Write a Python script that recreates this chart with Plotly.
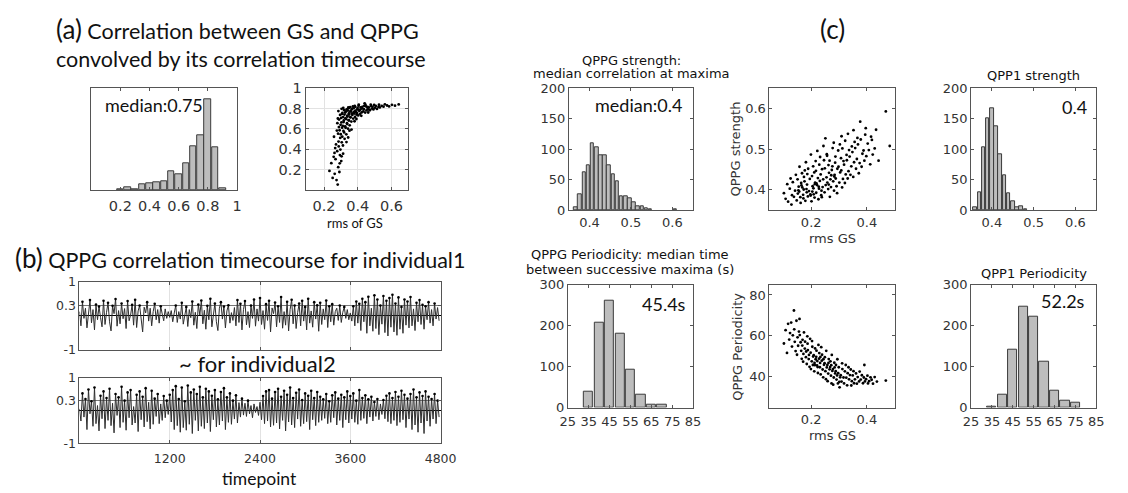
import plotly.graph_objects as go

W, H = 1128, 493

# ---------------- data ----------------
# (a) histogram of correlation between GS and QPPG
a_bins = [0.20, 0.25, 0.30, 0.35, 0.40, 0.45, 0.50, 0.55, 0.60, 0.65, 0.70, 0.75, 0.80, 0.85, 0.90]
a_counts = [1, 8, 3, 18, 22, 24, 27, 57, 49, 84, 135, 170, 282, 132, 5]

# (a) scatter: rms of GS vs correlation
a_rms = [0.232, 0.243, 0.251, 0.257, 0.262, 0.266, 0.259, 0.274, 0.268, 0.271,
         0.276, 0.279, 0.281, 0.284, 0.278, 0.286, 0.283, 0.288, 0.282, 0.285,
         0.291, 0.294, 0.287, 0.296, 0.292, 0.298, 0.289, 0.295, 0.302, 0.297,
         0.305, 0.299, 0.307, 0.303, 0.301, 0.309, 0.304, 0.312, 0.308, 0.315,
         0.311, 0.317, 0.313, 0.306, 0.318, 0.322, 0.319, 0.325, 0.316, 0.327,
         0.321, 0.329, 0.314, 0.332, 0.328, 0.336, 0.331, 0.338, 0.326, 0.334,
         0.342, 0.337, 0.345, 0.339, 0.347, 0.341, 0.344, 0.352, 0.348, 0.356,
         0.349, 0.354, 0.346, 0.362, 0.357, 0.365, 0.359, 0.355, 0.373, 0.368,
         0.376, 0.364, 0.371, 0.384, 0.379, 0.386, 0.375, 0.382, 0.393, 0.388,
         0.397, 0.385, 0.403, 0.396, 0.408, 0.399, 0.405, 0.414, 0.409, 0.417,
         0.406, 0.423, 0.416, 0.427, 0.433, 0.425, 0.438, 0.444, 0.436, 0.448,
         0.452, 0.457, 0.446, 0.463, 0.458, 0.472, 0.466, 0.477, 0.484, 0.479,
         0.493, 0.488, 0.502, 0.497, 0.514, 0.507, 0.523, 0.531, 0.526, 0.542,
         0.553, 0.561, 0.574, 0.586, 0.603, 0.621, 0.643, 0.363, 0.343, 0.313,
         0.263, 0.304, 0.392, 0.421, 0.441, 0.462, 0.381, 0.351, 0.333, 0.293]
a_corr = [0.187, 0.263, 0.118, 0.326, 0.364, 0.412, 0.523, 0.097, 0.302, 0.448,
          0.584, 0.657, 0.052, 0.224, 0.381, 0.476, 0.553, 0.618, 0.703, 0.776,
          0.176, 0.343, 0.428, 0.512, 0.587, 0.641, 0.692, 0.738, 0.284, 0.397,
          0.468, 0.548, 0.613, 0.664, 0.708, 0.757, 0.798, 0.437, 0.524, 0.581,
          0.629, 0.683, 0.717, 0.748, 0.786, 0.503, 0.566, 0.624, 0.668, 0.706,
          0.741, 0.772, 0.806, 0.547, 0.612, 0.657, 0.698, 0.731, 0.762, 0.793,
          0.603, 0.648, 0.687, 0.722, 0.753, 0.781, 0.812, 0.636, 0.683, 0.714,
          0.742, 0.771, 0.803, 0.673, 0.716, 0.752, 0.776, 0.814, 0.702, 0.738,
          0.768, 0.794, 0.821, 0.718, 0.752, 0.779, 0.804, 0.827, 0.741, 0.767,
          0.792, 0.818, 0.733, 0.758, 0.784, 0.806, 0.829, 0.749, 0.778, 0.812,
          0.838, 0.763, 0.791, 0.816, 0.772, 0.803, 0.828, 0.761, 0.794, 0.823,
          0.782, 0.809, 0.836, 0.793, 0.818, 0.784, 0.812, 0.839, 0.801, 0.827,
          0.792, 0.818, 0.808, 0.836, 0.797, 0.826, 0.817, 0.812, 0.838, 0.828,
          0.819, 0.842, 0.831, 0.822, 0.837, 0.829, 0.841, 0.594, 0.516, 0.357,
          0.158, 0.331, 0.698, 0.729, 0.852, 0.762, 0.676, 0.583, 0.471, 0.262]

# (b) QPPG correlation timecourses (sampled every 20 timepoints)
b_step = 20
b_ind1 = [0.12, -0.30, 0.41, -0.08, 0.22, -0.36, 0.05, 0.46, -0.21, 0.18,
          -0.42, 0.33, -0.12, 0.27, -0.05, -0.33, 0.44, -0.26, 0.10, 0.38,
          -0.18, -0.45, 0.29, 0.06, 0.49, -0.31, 0.15, -0.24, 0.36, -0.09,
          0.21, -0.38, 0.43, -0.15, 0.02, 0.32, -0.28, 0.47, -0.35, 0.14,
          0.30, -0.20, -0.48, 0.25, 0.08, 0.40, -0.16, 0.22, -0.30, 0.12,
          0.35, -0.12, 0.18, -0.22, 0.28, 0.05, -0.15, 0.20, -0.08, 0.12,
          -0.05, 0.15, -0.18, 0.08, 0.30, -0.20, 0.12, -0.10, 0.38, -0.25,
          0.05, 0.26, -0.32, 0.18, -0.06, 0.42, -0.28, 0.10, -0.38, 0.33,
          0.02, 0.45, -0.24, 0.16, -0.40, 0.29, -0.12, 0.50, -0.33, 0.08,
          0.36, -0.18, -0.44, 0.22, 0.40, -0.10, 0.27, -0.36, 0.14, 0.31,
          -0.22, 0.09, -0.14, 0.24, -0.30, 0.46, -0.20, 0.35, -0.42, 0.18,
          0.43, -0.27, 0.12, -0.35, 0.30, -0.08, 0.48, -0.31, 0.20, -0.16,
          0.52, -0.26, 0.15, -0.40, 0.34, -0.14, 0.44, -0.48, 0.23, 0.06,
          0.39, -0.33, 0.28, -0.20, 0.55, -0.37, 0.12, -0.28, 0.41, -0.45,
          0.18, 0.47, -0.24, 0.30, -0.38, 0.09, 0.36, -0.30, 0.44, -0.16,
          0.26, -0.42, 0.50, -0.22, 0.14, -0.34, 0.40, -0.10, 0.31, -0.46,
          0.38, -0.26, 0.20, -0.12, 0.45, -0.35, 0.28, -0.18, 0.34, -0.28,
          0.12, 0.22, -0.14, 0.30, -0.20, 0.10, 0.26, -0.08, 0.18, -0.12,
          0.08, -0.16, 0.28, -0.30, 0.42, -0.22, 0.35, -0.44, 0.50, -0.18,
          0.40, -0.52, 0.56, -0.30, 0.22, -0.46, 0.60, -0.38, 0.48, -0.56,
          0.30, -0.25, 0.58, -0.50, 0.44, -0.60, 0.52, -0.34, 0.62, -0.48,
          0.36, -0.58, 0.54, -0.40, 0.26, -0.52, 0.48, -0.28, 0.42, -0.36,
          0.55, -0.30, 0.20, -0.44, 0.38, -0.18, 0.46, -0.26, 0.32, -0.40,
          0.28, -0.12, 0.40, -0.22, 0.18, -0.30, 0.36, -0.10, 0.24, -0.15]
b_ind2 = [0.05, -0.32, 0.52, -0.20, 0.35, -0.58, 0.64, -0.10, 0.28, -0.48,
          0.70, -0.40, 0.15, -0.62, 0.45, -0.25, 0.58, -0.55, 0.38, -0.30,
          0.66, -0.46, 0.22, -0.68, 0.50, -0.15, 0.40, -0.52, 0.72, -0.36,
          0.30, -0.60, 0.55, -0.22, 0.62, -0.44, 0.12, -0.38, 0.48, -0.64,
          0.58, -0.28, 0.42, -0.50, 0.68, -0.34, 0.25, -0.56, 0.60, -0.42,
          0.36, -0.18, 0.50, -0.40, 0.20, -0.30, 0.44, -0.22, 0.30, -0.12,
          0.48, -0.35, 0.62, -0.58, 0.74, -0.46, 0.35, -0.66, 0.70, -0.52,
          0.28, -0.60, 0.76, -0.42, 0.55, -0.70, 0.64, -0.30, 0.50, -0.62,
          0.72, -0.48, 0.40, -0.55, 0.66, -0.38, 0.58, -0.64, 0.45, -0.28,
          0.62, -0.50, 0.34, -0.44, 0.56, -0.32, 0.68, -0.58, 0.40, -0.36,
          0.52, -0.42, 0.30, -0.26, 0.46, -0.38, 0.24, -0.20, 0.36, -0.14,
          0.22, -0.18, 0.30, -0.10, 0.15, -0.22, 0.20, -0.06, 0.12, -0.15,
          0.25, -0.28, 0.44, -0.40, 0.58, -0.32, 0.62, -0.50, 0.36, -0.45,
          0.56, -0.38, 0.66, -0.56, 0.42, -0.30, 0.60, -0.62, 0.48, -0.35,
          0.70, -0.44, 0.38, -0.52, 0.54, -0.26, 0.64, -0.48, 0.32, -0.40,
          0.52, -0.34, 0.45, -0.58, 0.60, -0.28, 0.38, -0.46, 0.56, -0.36,
          0.42, -0.30, 0.34, -0.24, 0.50, -0.40, 0.28, -0.36, 0.46, -0.22,
          0.55, -0.44, 0.36, -0.30, 0.48, -0.52, 0.40, -0.28, 0.58, -0.38,
          0.44, -0.26, 0.52, -0.36, 0.30, -0.42, 0.62, -0.30, 0.38, -0.24,
          0.46, -0.40, 0.34, -0.20, 0.42, -0.32, 0.26, -0.18, 0.35, -0.28,
          0.20, -0.12, 0.32, -0.25, 0.45, -0.34, 0.52, -0.40, 0.38, -0.30,
          0.56, -0.46, 0.42, -0.36, 0.60, -0.28, 0.48, -0.52, 0.36, -0.26,
          0.50, -0.58, 0.64, -0.44, 0.40, -0.66, 0.55, -0.38, 0.44, -0.70,
          0.58, -0.32, 0.42, -0.48, 0.35, -0.26, 0.50, -0.40, 0.30, -0.20]
b_ticks = [1200, 2400, 3600, 4800]

# (c) QPPG strength histogram
c1_bins = [0.367, 0.377, 0.387, 0.397, 0.407, 0.417, 0.427, 0.437, 0.447, 0.457,
           0.467, 0.477, 0.487, 0.497, 0.507, 0.517, 0.527, 0.537, 0.547, 0.607]
c1_counts = [5, 26, 63, 74, 110, 103, 90, 90, 74, 59,
             47, 23, 23, 20, 13, 6, 6, 3, 1, 1]

# (c) QPPG strength vs rms GS
c2_rms = [0.102, 0.108, 0.114, 0.117, 0.123, 0.126, 0.131, 0.134, 0.138, 0.142, 0.145, 0.129,
          0.148, 0.152, 0.155, 0.151, 0.158, 0.161, 0.157, 0.164, 0.167, 0.162,
          0.171, 0.168, 0.174, 0.177, 0.172, 0.179, 0.183, 0.176, 0.186, 0.181,
          0.188, 0.192, 0.185, 0.195, 0.189, 0.197, 0.184, 0.173, 0.165, 0.154,
          0.201, 0.198, 0.205, 0.203, 0.207, 0.199, 0.212, 0.208, 0.214, 0.211,
          0.216, 0.218, 0.221, 0.224, 0.217, 0.226, 0.222, 0.228, 0.231, 0.234,
          0.229, 0.236, 0.232, 0.238, 0.241, 0.243, 0.239, 0.246, 0.237, 0.244,
          0.213, 0.219, 0.227, 0.204, 0.209,
          0.248, 0.252, 0.255, 0.249, 0.257, 0.251, 0.261, 0.258, 0.264, 0.262,
          0.256, 0.267, 0.271, 0.269, 0.274, 0.266, 0.277, 0.282, 0.279, 0.284,
          0.276, 0.287, 0.281, 0.291, 0.288, 0.294, 0.286, 0.297, 0.263, 0.272,
          0.283, 0.293,
          0.301, 0.304, 0.298, 0.307, 0.303, 0.311, 0.314, 0.308, 0.316, 0.312,
          0.309, 0.321, 0.324, 0.318, 0.327, 0.322, 0.331, 0.334, 0.328, 0.336,
          0.332, 0.341, 0.344, 0.338, 0.346,
          0.351, 0.354, 0.348, 0.356, 0.352, 0.361, 0.364, 0.358, 0.366, 0.371,
          0.374, 0.368, 0.376, 0.381, 0.384, 0.378, 0.391, 0.388, 0.394, 0.398,
          0.403, 0.396, 0.412, 0.407, 0.415, 0.421, 0.418, 0.428, 0.433, 0.442,
          0.468, 0.482]
c2_strength = [0.392, 0.378, 0.414, 0.371, 0.403, 0.428, 0.387, 0.419, 0.383, 0.398, 0.437, 0.364,
               0.374, 0.391, 0.408, 0.426, 0.457, 0.382, 0.396, 0.417, 0.441, 0.368,
               0.388, 0.406, 0.432, 0.448, 0.379, 0.373, 0.402, 0.421, 0.439, 0.468,
               0.384, 0.397, 0.413, 0.427, 0.452, 0.389, 0.394, 0.401, 0.411, 0.399,
               0.372, 0.386, 0.409, 0.434, 0.458, 0.487, 0.381, 0.404, 0.418, 0.443,
               0.471, 0.393, 0.412, 0.429, 0.447, 0.377, 0.496, 0.403, 0.422, 0.438,
               0.462, 0.387, 0.481, 0.382, 0.407, 0.426, 0.451, 0.473, 0.398, 0.508,
               0.414, 0.416, 0.408, 0.396, 0.389,
               0.394, 0.412, 0.431, 0.453, 0.484, 0.527, 0.402, 0.418, 0.442, 0.461,
               0.488, 0.383, 0.407, 0.426, 0.449, 0.472, 0.503, 0.398, 0.421, 0.437,
               0.458, 0.482, 0.516, 0.409, 0.428, 0.452, 0.467, 0.497, 0.413, 0.436,
               0.433, 0.392,
               0.418, 0.443, 0.457, 0.478, 0.512, 0.406, 0.427, 0.448, 0.471, 0.502,
               0.532, 0.417, 0.438, 0.462, 0.486, 0.521, 0.428, 0.446, 0.473, 0.498,
               0.538, 0.437, 0.458, 0.482, 0.507,
               0.432, 0.468, 0.493, 0.518, 0.547, 0.452, 0.476, 0.503, 0.528, 0.441,
               0.466, 0.512, 0.568, 0.457, 0.489, 0.524, 0.472, 0.497, 0.536, 0.483,
               0.514, 0.552, 0.463, 0.498, 0.531, 0.487, 0.523, 0.502, 0.548, 0.472,
               0.593, 0.508]

# (c) QPP1 strength histogram
c3_bins = [0.36, 0.37, 0.38, 0.39, 0.40, 0.41, 0.42, 0.43, 0.44, 0.45, 0.46, 0.47, 0.48]
c3_counts = [5, 30, 104, 150, 168, 137, 92, 58, 28, 15, 5, 6, 2]

# (c) QPPG periodicity histogram
c4_bins = [35, 40, 45, 50, 55, 60, 65, 70]
c4_counts = [38, 207, 262, 181, 93, 31, 7, 6]

# (c) QPPG periodicity vs rms GS
c5_rms = [0.102, 0.108, 0.113, 0.117, 0.121, 0.124, 0.128, 0.131, 0.134, 0.138,
          0.141, 0.144, 0.139, 0.147, 0.151, 0.153, 0.149, 0.156, 0.158, 0.162,
          0.164, 0.159, 0.166, 0.168, 0.172, 0.169, 0.174, 0.171, 0.177, 0.181,
          0.178, 0.184, 0.186, 0.182, 0.188, 0.191, 0.187, 0.194, 0.192, 0.196,
          0.198, 0.202, 0.204, 0.199, 0.207, 0.203, 0.206,
          0.209, 0.212, 0.214, 0.211, 0.216, 0.218, 0.221, 0.219, 0.224, 0.222,
          0.226, 0.228, 0.231, 0.229, 0.234, 0.232, 0.236, 0.238, 0.241, 0.239,
          0.243, 0.246, 0.248, 0.251, 0.249, 0.253, 0.256, 0.254, 0.213, 0.223, 0.233, 0.244,
          0.258, 0.261, 0.263, 0.259, 0.266, 0.268, 0.271, 0.269, 0.273, 0.276,
          0.274, 0.278, 0.281, 0.283, 0.279, 0.286, 0.288, 0.291, 0.289, 0.293,
          0.294, 0.297, 0.301, 0.299, 0.304, 0.302, 0.262, 0.284, 0.296, 0.272,
          0.306, 0.309, 0.312, 0.311, 0.316, 0.318, 0.321, 0.324, 0.326, 0.329,
          0.331, 0.334, 0.336, 0.339, 0.342, 0.344, 0.346, 0.349, 0.352, 0.354,
          0.357, 0.361, 0.364, 0.367, 0.372, 0.374, 0.378, 0.382, 0.386, 0.389,
          0.393, 0.397, 0.402, 0.404, 0.408, 0.413, 0.417, 0.422, 0.428, 0.436, 0.468, 0.391]
c5_period = [56.3, 62.8, 51.7, 65.9, 58.2, 61.4, 66.5, 54.8, 60.3, 72.4,
             57.1, 52.6, 63.2, 67.4, 59.3, 55.2, 50.8, 62.1, 68.3, 56.9,
             52.7, 60.4, 48.8, 55.3, 51.2, 58.1, 61.7, 47.4, 53.8, 49.6,
             57.2, 46.3, 59.8, 52.4, 53.1, 48.7, 56.2, 44.9, 50.7, 58.6,
             51.8, 47.6, 54.7, 43.8, 49.9, 57.5, 45.8,
             50.6, 46.8, 53.9, 42.7, 48.6, 49.8, 45.6, 52.8, 41.9, 47.7,
             55.6, 48.9, 44.7, 51.6, 41.2, 46.8, 54.5, 47.9, 43.6, 50.8,
             39.8, 45.9, 46.7, 42.8, 49.6, 38.9, 44.6, 52.7, 45.7, 44.8, 49.7, 48.6,
             45.8, 41.6, 48.7, 37.9, 43.7, 44.8, 40.6, 47.6, 36.8, 42.9,
             50.7, 43.8, 39.7, 46.9, 36.2, 41.7, 42.8, 38.7, 45.8, 40.7,
             48.6, 41.8, 37.6, 44.7, 39.8, 34.9, 46.8, 44.6, 36.8, 45.7,
             40.8, 37.7, 43.8, 46.6, 39.7, 36.8, 42.7, 45.8, 39.6, 35.9,
             41.8, 44.7, 38.8, 40.9, 43.6, 35.8, 37.9, 40.7, 42.8, 36.9,
             38.8, 41.7, 36.7, 39.9, 37.8, 42.6, 38.7, 40.8, 36.9, 39.7,
             37.8, 38.9, 40.6, 36.8, 37.9, 39.8, 38.6, 36.7, 39.9, 37.7, 38.2, 45.8]

# (c) QPP1 periodicity histogram
c6_bins = [35, 40, 45, 50, 55, 60, 65, 70, 75]
c6_counts = [1, 31, 142, 246, 222, 111, 42, 16, 11]

# ---------------- helpers ----------------
def dx(a, b):
    return [a / W, b / W]

def dy(top, bottom):
    return [1 - bottom / H, 1 - top / H]

LINE = '#555555'
TICKC = '#333333'
BAR = '#bdbdbd'
CAL = 'Lato, Carlito, Calibri, sans-serif'
DJ = 'DejaVu Sans'

def axis(domain, rng, anchor, tickvals=None, ticktext=None, labels=True,
         fs=13, grid=False, zeroline=False, standoff=None):
    d = dict(domain=domain, range=rng, anchor=anchor, showline=True,
             linecolor=LINE, linewidth=1, mirror='ticks', ticks='inside',
             ticklen=3, tickcolor=LINE, showgrid=grid, gridcolor='#e2e2e2',
             gridwidth=1, zeroline=zeroline, zerolinecolor='#000000',
             zerolinewidth=1.2, showticklabels=labels, fixedrange=True,
             tickfont=dict(family=DJ, size=fs, color=TICKC))
    if standoff is not None:
        d['ticklabelstandoff'] = standoff
    if tickvals is not None:
        d['tickmode'] = 'array'
        d['tickvals'] = tickvals
        d['ticktext'] = ticktext if ticktext is not None else [str(v) for v in tickvals]
    return d

fig = go.Figure()

def bar(x, y, width, n):
    xa = 'x' if n == 1 else 'x%d' % n
    ya = 'y' if n == 1 else 'y%d' % n
    fig.add_trace(go.Bar(x=x, y=y, width=width, xaxis=xa, yaxis=ya,
                         marker=dict(color=BAR, line=dict(color='#3a3a3a', width=1)),
                         hoverinfo='skip'))

def dots(x, y, n, size=2.8):
    xa = 'x' if n == 1 else 'x%d' % n
    ya = 'y' if n == 1 else 'y%d' % n
    fig.add_trace(go.Scatter(x=x, y=y, mode='markers', xaxis=xa, yaxis=ya,
                             marker=dict(color='black', size=size),
                             hoverinfo='skip'))

def timecourse(vals, n):
    xa = 'x%d' % n
    ya = 'y%d' % n
    fig.add_trace(go.Scatter(y=vals, x0=0, dx=b_step, mode='lines', xaxis=xa, yaxis=ya,
                             line=dict(color='#2e2e2e', width=1), hoverinfo='skip'))
    px, py = [], []
    for i in range(1, len(vals) - 1):
        if vals[i] > vals[i - 1] and vals[i] > vals[i + 1] and vals[i] > 0.25:
            px.append(i * b_step)
            py.append(vals[i])
    fig.add_trace(go.Scatter(x=px, y=py, mode='markers', xaxis=xa, yaxis=ya,
                             marker=dict(color='black', size=2.6), hoverinfo='skip'))

# (a)
bar(a_bins, a_counts, 0.045, 1)
dots(a_rms, a_corr, 2)
# (b)
timecourse(b_ind1, 3)
timecourse(b_ind2, 4)
# (c)
bar(c1_bins, c1_counts, 0.0085, 5)
dots(c2_rms, c2_strength, 6)
bar(c3_bins, c3_counts, 0.0085, 7)
bar(c4_bins, c4_counts, 4.4, 8)
dots(c5_rms, c5_period, 9)
bar(c6_bins, c6_counts, 4.4, 10)

lay = dict(width=W, height=H, margin=dict(l=0, r=0, t=0, b=0),
           paper_bgcolor='white', plot_bgcolor='white', showlegend=False,
           bargap=0)

# (a) hist
lay['xaxis'] = axis(dx(85, 234), [0, 1], 'y', [0.2, 0.4, 0.6, 0.8, 1],
                    ['0.2', '0.4', '0.6', '0.8', '1'], fs=14.5, standoff=3)
lay['yaxis'] = axis(dy(83, 188), [0, 315], 'x', [], labels=False)
# (a) scatter
lay['xaxis2'] = axis(dx(304, 409), [0.09, 0.70], 'y2', [0.2, 0.4, 0.6],
                     ['0.2', '0.4', '0.6'], fs=14.5, grid=True, standoff=3)
lay['yaxis2'] = axis(dy(83, 188), [0, 1], 'x2', [0.2, 0.4, 0.6, 0.8, 1],
                     ['0.2', '0.4', '0.6', '0.8', '1'], fs=14.5, grid=True)
# (b)
lay['xaxis3'] = axis(dx(73, 442), [0, 4800], 'y3', b_ticks, labels=False, grid=True)
lay['yaxis3'] = axis(dy(283, 353), [-1, 1], 'x3', [-1, 0.3, 1], ['-1', '0.3', '1'],
                     fs=12.5, grid=True, zeroline=True)
lay['xaxis4'] = axis(dx(73, 442), [0, 4800], 'y4', b_ticks, fs=12.5, grid=True, standoff=4)
lay['yaxis4'] = axis(dy(382, 450), [-1, 1], 'x4', [-1, 0.3, 1], ['-1', '0.3', '1'],
                     fs=12.5, grid=True, zeroline=True)
lay['yaxis3']['gridcolor'] = '#777777'
lay['yaxis4']['gridcolor'] = '#777777'
# (c) top row
lay['xaxis5'] = axis(dx(573, 700), [0.35, 0.65], 'y5', [0.4, 0.5, 0.6])
lay['yaxis5'] = axis(dy(83, 209), [0, 200], 'x5', [0, 50, 100, 150, 200])
lay['xaxis6'] = axis(dx(778, 906), [0.05, 0.5], 'y6', [0.2, 0.4])
lay['yaxis6'] = axis(dy(83, 209), [0.35, 0.65], 'x6', [0.4, 0.5, 0.6])
lay['xaxis7'] = axis(dx(984, 1112), [0.35, 0.65], 'y7', [0.4, 0.5, 0.6])
lay['yaxis7'] = axis(dy(83, 209), [0, 200], 'x7', [0, 50, 100, 150, 200])
# (c) bottom row
per_ticks = [25, 35, 45, 55, 65, 75, 85]
lay['xaxis8'] = axis(dx(572, 700), [25, 85], 'y8', per_ticks, standoff=2)
lay['yaxis8'] = axis(dy(286, 413), [0, 300], 'x8', [0, 100, 200, 300])
lay['xaxis9'] = axis(dx(778, 906), [0.05, 0.5], 'y9', [0.2, 0.4])
lay['yaxis9'] = axis(dy(286, 413), [25, 85], 'x9', [40, 60, 80])
lay['xaxis10'] = axis(dx(984, 1112), [25, 85], 'y10', per_ticks, standoff=2)
lay['yaxis10'] = axis(dy(286, 413), [0, 300], 'x10', [0, 100, 200, 300])

fig.update_layout(**lay)

def text(x, y, s, size, family=CAL, color='#111111', xanchor='center', angle=0):
    fig.add_annotation(x=x / W, y=1 - y / H, xref='paper', yref='paper', text=s,
                       showarrow=False, xanchor=xanchor, yanchor='middle',
                       textangle=angle,
                       font=dict(family=family, size=size, color=color))

# panel titles
text(47, 22, '<span style="font-size:26px">(a)</span> Correlation between GS and QPPG', 21.5, xanchor='left')
text(47, 53, 'convolved by its correlation timecourse', 21.5, xanchor='left')
text(5, 258, '<span style="font-size:26px">(b)</span> QPPG correlation timecourse for individual1', 21.5, xanchor='left')
text(842, 22, '(c)', 26)
text(255, 367, '~ for individual2', 22)
text(257, 486, 'timepoint', 17.5)
text(355, 222, 'rms of GS', 13)
text(149, 100, 'median:0.75', 18)
# (c) texts
text(637, 54, 'QPPG strength:', 13, family=DJ)
text(637, 68, 'median correlation at maxima', 13, family=DJ)
text(1048, 70, 'QPP1 strength', 13, family=DJ)
text(636, 255, 'QPPG Periodicity: median time', 13, family=DJ)
text(636, 270, 'between successive maxima (s)', 13, family=DJ)
text(1048, 274, 'QPP1 Periodicity', 13, family=DJ)
text(644, 100, 'median:0.4', 18)
text(1090, 102, '0.4', 18)
text(670, 306, '45.4s', 18)
text(1078, 303, '52.2s', 18)
text(842, 238, 'rms GS', 13, family=DJ, color=TICKC)
text(842, 442, 'rms GS', 13, family=DJ, color=TICKC)
text(743, 146, 'QPPG strength', 13, family=DJ, color=TICKC, angle=-90)
text(745, 350, 'QPPG Periodicity', 13, family=DJ, color=TICKC, angle=-90)

fig.write_html('out.html')
